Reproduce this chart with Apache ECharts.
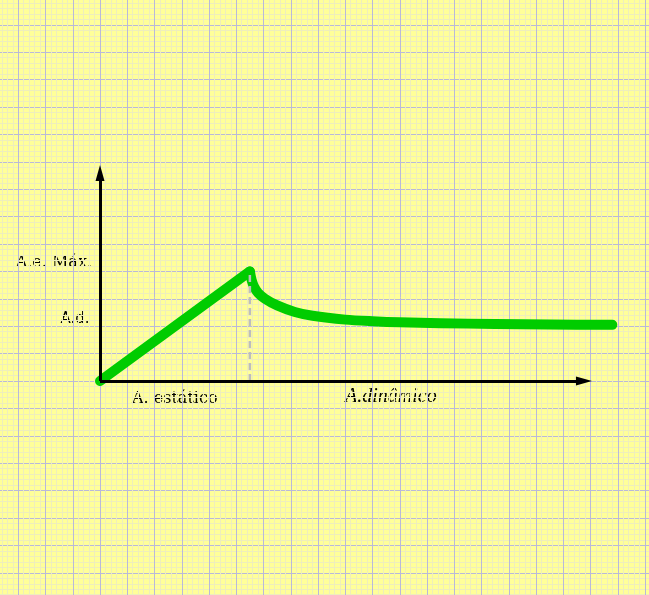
<!DOCTYPE html>
<html>
<head>
<meta charset="utf-8">
<script src="https://cdn.jsdelivr.net/npm/echarts@6/dist/echarts.min.js"></script>
<style>
  html, body { margin: 0; padding: 0; overflow: hidden; background: #ffff99; }
  #chart { width: 649px; height: 595px; }
</style>
</head>
<body>
<div id="chart"></div>
<script>
"use strict";

// rise from rest to the maximum static friction
const riseX = [0, 5.5];
const riseY = [0, 4];

// drop down to the dynamic friction level
const decayX = [5.5, 5.56, 5.65, 5.8, 6.06, 6.5, 7.15, 7.8, 9.0, 10.0, 11.0, 12.5, 14.5, 16.5, 18.8];
const decayY = [4.0, 3.7, 3.45, 3.22, 3.0, 2.76, 2.52, 2.38, 2.24, 2.18, 2.14, 2.11, 2.08, 2.06, 2.05];

const labels = ['A.e. Máx.', 'A.d.', 'A. estático', 'A.dinâmico'];

const zip = (xs, ys) => xs.map((x, i) => [x, ys[i]]);

const chartDom = document.getElementById('chart');
const myChart = echarts.init(chartDom);
let option;

const green = '#00cc00';

option = {
    backgroundColor: '#ffff99',
    animation: false,
    grid: {
        left: -9,
        top: -2.6,
        width: 681.25,
        height: 602.8,
        outerBoundsMode: 'none'
    },
    xAxis: {
        type: 'value',
        min: -4,
        max: 21,
        interval: 1,
        axisLine: { show: false },
        axisTick: { show: false },
        axisLabel: { show: false },
        splitLine: { lineStyle: { color: '#b9b9d9', width: 1 } },
        minorTick: { show: false, splitNumber: 5 },
        minorSplitLine: { show: true, lineStyle: { color: '#eeeebc', width: 1 } }
    },
    yAxis: {
        type: 'value',
        min: -8,
        max: 14,
        interval: 1,
        axisLine: { show: false },
        axisTick: { show: false },
        axisLabel: { show: false },
        splitLine: { lineStyle: { color: '#b9b9d9', width: 1 } },
        minorTick: { show: false, splitNumber: 5 },
        minorSplitLine: { show: true, lineStyle: { color: '#eeeebc', width: 1 } }
    },
    series: [
        {
            name: 'eixos',
            type: 'line',
            data: [],
            z: 2,
            markLine: {
                silent: true,
                symbol: ['none', 'triangle'],
                symbolSize: [9, 16],
                label: { show: false },
                lineStyle: { color: '#000', width: 3, type: 'solid' },
                data: [
                    [{ coord: [0, 0] }, { coord: [17.76, 0] }],
                    [{ coord: [0, 0] }, { coord: [0, 7.59] }]
                ]
            }
        },
        {
            name: 'subida',
            type: 'line',
            data: zip(riseX, riseY),
            symbol: 'none',
            z: 3,
            lineStyle: { color: green, width: 10, cap: 'round', join: 'round' }
        },
        {
            name: 'queda',
            type: 'line',
            data: zip(decayX, decayY),
            symbol: 'none',
            smooth: 0.3,
            z: 3,
            lineStyle: { color: green, width: 10, cap: 'round', join: 'round' }
        },
        {
            name: 'pico',
            type: 'line',
            data: [[riseX[1], 0], [riseX[1], riseY[1]]],
            symbol: 'none',
            z: 4,
            lineStyle: { color: '#bdbdbd', width: 2.5, type: [7, 4] }
        }
    ],
    graphic: [
        {
            type: 'text', x: 92, y: 263,
            style: { text: labels[0], align: 'right', verticalAlign: 'middle',
                     font: '16px "DejaVu Serif"', fill: '#000' }
        },
        {
            type: 'text', x: 89.5, y: 319.5,
            style: { text: labels[1], align: 'right', verticalAlign: 'middle',
                     font: '15px "DejaVu Sans"', fill: '#000' }
        },
        {
            type: 'text', x: 132, y: 399,
            style: { text: labels[2], align: 'left', verticalAlign: 'middle',
                     font: '16px "DejaVu Serif"', fill: '#000' }
        },
        {
            type: 'text', x: 345, y: 396.5,
            style: { text: labels[3], align: 'left', verticalAlign: 'middle',
                     font: 'italic 20px "Liberation Serif"', fill: '#000' }
        }
    ]
};

option && myChart.setOption(option);
</script>
</body>
</html>
